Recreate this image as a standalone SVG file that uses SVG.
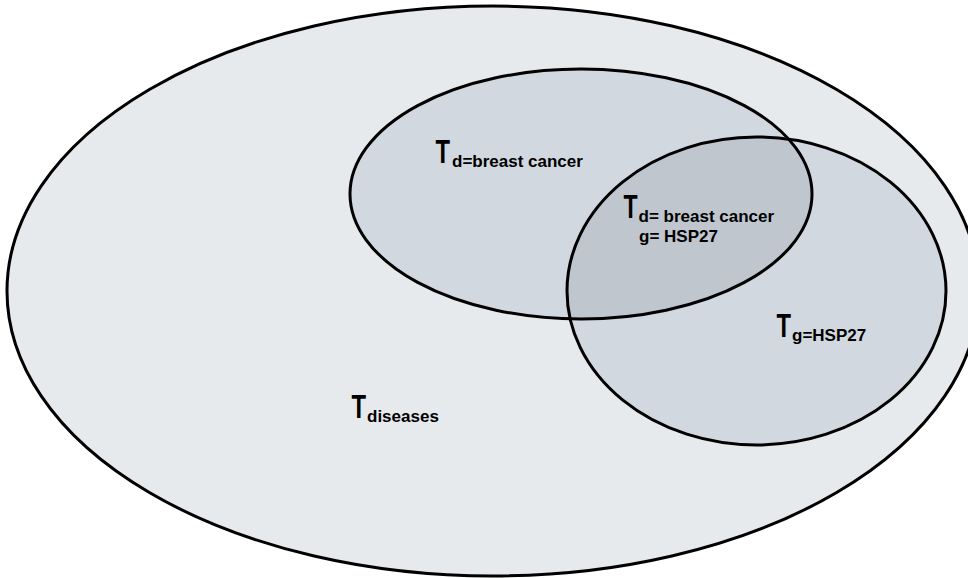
<svg xmlns="http://www.w3.org/2000/svg" width="968" height="578" viewBox="0 0 968 578">
<style>
.lbl{font-family:"Liberation Sans",Arial,sans-serif;font-weight:bold;font-size:17px;fill:#000}
.big{font-family:"Liberation Sans",Arial,sans-serif;font-weight:bold;font-size:33px;fill:#000}
.set{stroke:#000;stroke-width:3}
</style>
<defs>
<clipPath id="clipD"><ellipse cx="581" cy="194" rx="231" ry="125"/></clipPath>
</defs>
<rect width="968" height="578" fill="#ffffff"/>
<g id="diseases">
<ellipse class="set" cx="493" cy="291" rx="486" ry="285" fill="#e7eaed"/>
<text class="big" transform="matrix(0.72,0,0,1,351.5,418)">T</text>
<text class="lbl" x="367" y="421.7">diseases</text>
</g>
<g id="breast-cancer">
<ellipse cx="581" cy="194" rx="231" ry="125" fill="#d1d8df"/>
</g>
<g id="hsp27">
<ellipse cx="756.5" cy="291" rx="189.5" ry="154" fill="#d1d8df"/>
<ellipse cx="756.5" cy="291" rx="189.5" ry="154" fill="#bfc6ce" clip-path="url(#clipD)"/>
</g>
<g id="outlines" fill="none">
<ellipse class="set" cx="581" cy="194" rx="231" ry="125"/>
<ellipse class="set" cx="756.5" cy="291" rx="189.5" ry="154"/>
</g>
<g id="label-d">
<text class="big" transform="matrix(0.72,0,0,1,435.5,163)">T</text>
<text class="lbl" x="452" y="166.7">d=breast cancer</text>
</g>
<g id="label-dg">
<text class="big" transform="matrix(0.7,0,0,1,623.5,218)">T</text>
<text class="lbl" x="638.5" y="221.7">d= breast cancer</text>
<text class="lbl" x="639" y="241.5">g= HSP27</text>
</g>
<g id="label-g">
<text class="big" transform="matrix(0.72,0,0,1,776.5,337)">T</text>
<text class="lbl" x="792" y="340.7">g=HSP27</text>
</g>
<g id="connectors"></g>
</svg>
